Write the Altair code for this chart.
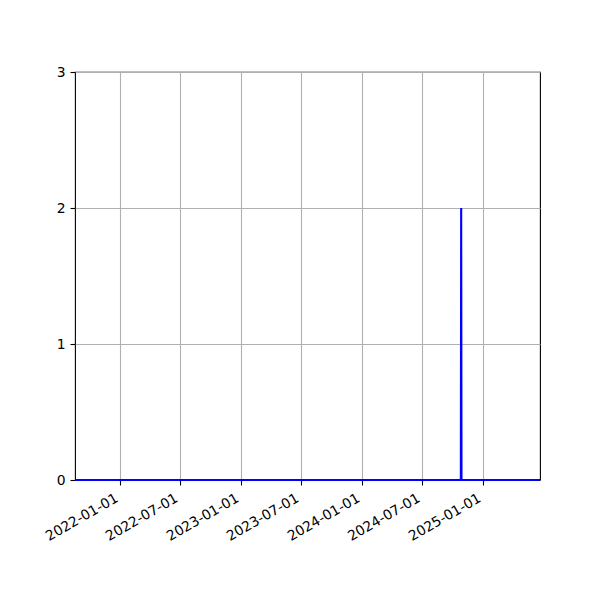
import altair as alt
import pandas as pd

dates = ["2021-08-18", "2024-10-26", "2024-10-27", "2024-10-28", "2025-06-22"]
values = [0, 0, 2, 0, 0]
x_ticks = ["2022-01-01", "2022-07-01", "2023-01-01", "2023-07-01",
           "2024-01-01", "2024-07-01", "2025-01-01"]
x_domain = ["2021-08-18", "2025-06-22"]
y_ticks = [0, 1, 2, 3]

df = pd.DataFrame({"date": pd.to_datetime(dates), "value": values})

tick_vals = [alt.DateTime(year=int(d[:4]), month=int(d[5:7]), date=int(d[8:10])) for d in x_ticks]
dom = [alt.DateTime(year=int(d[:4]), month=int(d[5:7]), date=int(d[8:10])) for d in x_domain]

chart = alt.Chart(df).mark_line(color="#0000ff", strokeWidth=2.1, clip=False).encode(
    x=alt.X("date:T", title=None,
            scale=alt.Scale(domain=dom, nice=False),
            axis=alt.Axis(values=tick_vals, format="%Y-%m-%d", labelAngle=330,
                          labelAlign="right", labelBaseline="bottom", labelPadding=18,
                          grid=True, gridColor="#b0b0b0", gridWidth=1.1,
                          tickColor="black", tickSize=5, tickWidth=1.1,
                          domain=False, labelFont="DejaVu Sans", labelFontSize=13.9,
                          labelColor="black", labelOverlap=False, labelFlush=False)),
    y=alt.Y("value:Q", title=None,
            scale=alt.Scale(domain=[0, 3], nice=False, zero=False),
            axis=alt.Axis(values=y_ticks, format="d",
                          grid=True, gridColor="#b0b0b0", gridWidth=1.1,
                          tickColor="black", tickSize=5, tickWidth=1.1,
                          labelPadding=5, domain=False,
                          labelFont="DejaVu Sans", labelFontSize=13.9,
                          labelColor="black")),
).properties(
    width=465, height=408,
    autosize="none",
    padding={"left": 67, "top": 64, "right": 52, "bottom": 112},
).configure_view(
    stroke="black", strokeWidth=1.1
)

chart.save("out.html", embed_options={"renderer": "svg", "actions": False})
